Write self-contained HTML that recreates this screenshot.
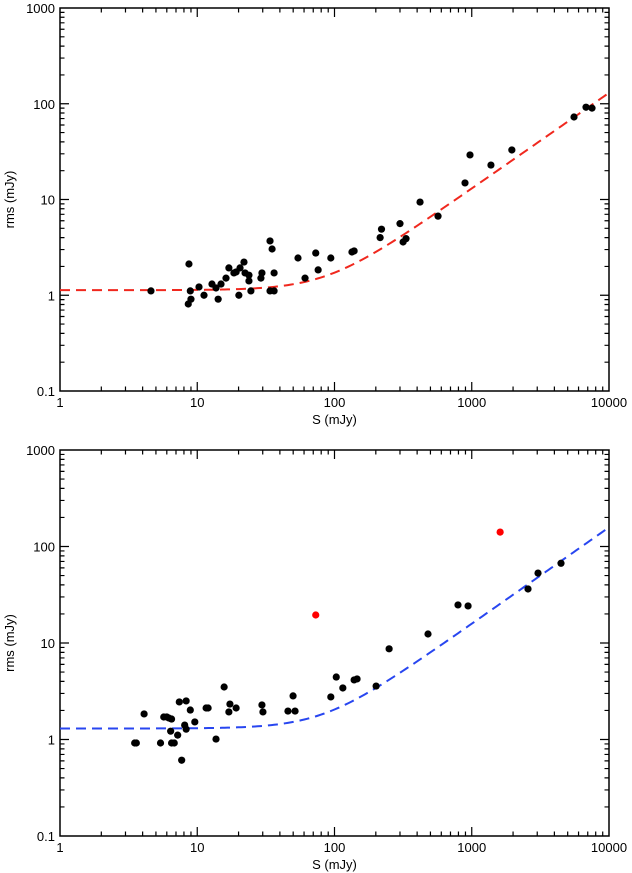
<!DOCTYPE html>
<html><head><meta charset="utf-8"><style>
html,body{margin:0;padding:0;background:#fff;}
svg{display:block;font-family:"Liberation Sans",Arial,sans-serif;}
</style></head><body>
<svg id="chart" width="632" height="873" viewBox="0 0 632 873" xmlns="http://www.w3.org/2000/svg"></svg>
<script>
// Panel 1 data
const p1X = [4.6,8.7,8.6,9.0,8.9,10.3,11.2,12.8,13.7,14.2,14.9,16.2,17.0,18.5,19.2,20.5,21.9,22.3,23.8,23.8,20.1,24.6,29.1,29.6,33.9,35.1,33.9,36.3,36.3,54.2,61,73,76,94,134,139,215,220,300,316,332,420,568,893,971,1380,1960,5560,6800,7520];
const p1Y = [1.11,2.12,0.81,0.91,1.11,1.22,1.0,1.31,1.19,0.91,1.31,1.51,1.93,1.71,1.75,1.93,2.22,1.71,1.62,1.41,1.0,1.11,1.51,1.71,3.69,3.04,1.11,1.11,1.71,2.45,1.51,2.76,1.84,2.45,2.83,2.90,4.0,4.9,5.6,3.6,3.9,9.4,6.7,14.9,29.2,22.9,32.9,72.7,92,90];
const p1FitA = 1.13, p1FitB = 0.013;
// Panel 2 data
const p2X = [3.5,3.6,4.1,5.4,5.7,6.0,6.2,6.5,6.5,6.8,6.4,7.2,7.4,7.7,8.1,8.3,8.3,8.9,9.6,11.6,12.0,13.7,15.7,17.0,17.3,19.2,29.6,30.1,45.8,49.9,51.6,94,103,115,139,146,201,250,480,794,940,2570,3040,4470];
const p2Y = [0.92,0.92,1.84,0.92,1.71,1.71,1.67,1.63,0.92,0.92,1.22,1.11,2.45,0.61,1.41,1.28,2.51,2.02,1.52,2.12,2.12,1.01,3.5,1.93,2.33,2.12,2.28,1.93,1.97,2.83,1.97,2.76,4.44,3.42,4.14,4.24,3.58,8.7,12.4,24.8,24.2,36.3,53,67];
const p2RedX = [73,1610];
const p2RedY = [19.5,141];
const p2FitA = 1.3, p2FitB = 0.0158;
const xTicks = [1,10,100,1000,10000];
const yTicks = [0.1,1,10,100,1000];
const xTickLabels = ["1","10","100","1000","10000"];
const yTickLabels = ["0.1","1","10","100","1000"];

const NS="http://www.w3.org/2000/svg";
const svg=document.getElementById('chart');
function mk(tag,attrs,parent){const e=document.createElementNS(NS,tag);for(const k in attrs)e.setAttribute(k,attrs[k]);(parent||svg).appendChild(e);return e;}

function panel(idx,L,R,T,B,xs,ys,rx,ry,fa,fb,fitColor){
  const g=mk('g',{});
  
  
  const sx=v=>L+(Math.log10(v)-0)/4*(R-L);
  const sy=v=>B-(Math.log10(v)+1)/4*(B-T);
  const frame=mk('rect',{x:L,y:T,width:R-L,height:B-T,fill:'none',stroke:'#000','stroke-width':1.5},g);
  
  
  let d='';
  for(let dec=0;dec<4;dec++){for(let m=1;m<10;m++){const v=Math.pow(10,dec)*m;const x=sx(v);const len=m===1?9:4.5;
    if(m===1&&dec===0)continue; d+=`M${x},${B}v${-len}M${x},${T}v${len}`;}}
  for(let dec=-1;dec<3;dec++){for(let m=1;m<10;m++){const v=Math.pow(10,dec)*m;const y=sy(v);const len=m===1?9:4.5;
    if(m===1&&dec===-1)continue; d+=`M${L},${y}h${len}M${R},${y}h${-len}`;}}
  const tk=mk('path',{d:d,stroke:'#000','stroke-width':1.2,fill:'none'},g);
  
  
  xTicks.forEach((v,i)=>{const t=mk('text',{x:sx(v),y:B+16,'text-anchor':'middle','font-size':13},g);t.textContent=xTickLabels[i];
    
    });
  yTicks.forEach((v,i)=>{const t=mk('text',{x:L-5,y:sy(v)+5,'text-anchor':'end','font-size':13},g);t.textContent=yTickLabels[i];
    
    });
  const xt=mk('text',{x:(L+R)/2,y:B+33,'text-anchor':'middle','font-size':13},g);xt.textContent='S (mJy)';
  
  
  const cy=(T+B)/2;
  const yt=mk('text',{x:14,y:cy,'text-anchor':'middle','font-size':13,transform:`rotate(-90 14 ${cy})`},g);yt.textContent='rms (mJy)';
  
  
  let pd='';for(let i=0;i<=200;i++){const lx=i/200*4;const S=Math.pow(10,lx);const r=Math.sqrt(fa*fa+(fb*S)*(fb*S));pd+=(i?'L':'M')+sx(S).toFixed(2)+','+sy(r).toFixed(2);}
  const fit=mk('path',{d:pd,stroke:fitColor,'stroke-width':2,fill:'none','stroke-dasharray':'10,6'},g);
  
  
  xs.forEach((v,i)=>{const c=mk('circle',{cx:sx(v),cy:sy(ys[i]),r:3.6,fill:'#000'},g);
    
    });
  rx.forEach((v,i)=>{const c=mk('circle',{cx:sx(v),cy:sy(ry[i]),r:3.6,fill:'#f00'},g);
    
    });
}
panel(1,60,609,8,391,p1X,p1Y,[],[],p1FitA,p1FitB,'#f0281e');
panel(2,60,609,450,836,p2X,p2Y,p2RedX,p2RedY,p2FitA,p2FitB,'#2846f0');
</script>
</body></html>
